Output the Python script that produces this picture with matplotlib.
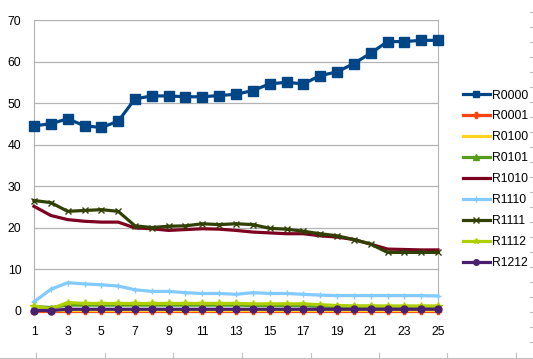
import numpy as np
import matplotlib
matplotlib.use("Agg")
import matplotlib.pyplot as plt
from matplotlib.lines import Line2D

plt.rcParams["font.family"] = ["Liberation Sans", "DejaVu Sans"]

# --- data ---
steps = list(range(1, 26))

r0000 = [44.5, 45.0, 46.2, 44.5, 44.1, 45.6, 51.0, 51.7, 51.7, 51.5, 51.5, 51.8, 52.1,
         53.0, 54.6, 55.0, 54.6, 56.6, 57.5, 59.5, 62.0, 64.8, 64.8, 65.1, 65.1]
r0001 = [0.0] * 25
r0100 = [0.1] * 25
r0101 = [1.0, 0.7, 1.3, 1.3, 1.3, 1.3, 1.3, 1.3, 1.3, 1.3, 1.3, 1.3, 1.3,
         1.2, 1.2, 1.2, 1.2, 1.0, 1.0, 1.0, 1.0, 0.9, 0.9, 0.9, 0.9]
r1010 = [25.1, 22.9, 21.9, 21.5, 21.3, 21.3, 19.9, 19.7, 19.3, 19.5, 19.7, 19.6, 19.3,
         18.9, 18.7, 18.5, 18.5, 18.0, 17.7, 17.1, 16.0, 14.8, 14.7, 14.6, 14.6]
r1110 = [2.1, 5.1, 6.7, 6.4, 6.2, 5.9, 5.0, 4.6, 4.6, 4.3, 4.1, 4.1, 3.9,
         4.3, 4.1, 4.1, 3.9, 3.7, 3.6, 3.6, 3.6, 3.6, 3.6, 3.6, 3.5]
r1111 = [26.5, 26.0, 23.9, 24.1, 24.3, 23.9, 20.4, 20.0, 20.3, 20.4, 20.9, 20.7, 20.9,
         20.7, 19.8, 19.6, 19.1, 18.5, 18.0, 17.1, 16.0, 14.0, 14.0, 14.0, 14.0]
r1112 = [1.0, 0.4, 1.9, 1.7, 1.7, 1.7, 1.7, 1.7, 1.7, 1.7, 1.7, 1.7, 1.7,
         1.6, 1.6, 1.6, 1.6, 1.4, 1.2, 1.1, 1.1, 1.1, 1.1, 1.1, 1.1]
r1212 = [0.0, 0.0, 0.3, 0.3, 0.3, 0.3, 0.3, 0.3, 0.3, 0.3, 0.3, 0.3, 0.3,
         0.3, 0.3, 0.3, 0.3, 0.3, 0.3, 0.3, 0.3, 0.3, 0.3, 0.3, 0.3]

names = ["R0000", "R0001", "R0100", "R0101", "R1010", "R1110", "R1111", "R1112", "R1212"]
series = [r0000, r0001, r0100, r0101, r1010, r1110, r1111, r1112, r1212]

# LibreOffice default chart palette
colors = ["#004586", "#ff420e", "#ffd320", "#579d1c", "#7e0021",
          "#83caff", "#314004", "#aecf00", "#4b1f6f"]
markers = ["s", "P", "None", "^", "None", "+", "x", "*", "o"]
msizes = [6.5, 5, 0, 5, 0, 5, 4, 6, 5]

W, H = 533, 359
fig = plt.figure(figsize=(W / 100, H / 100), dpi=100)
ax = fig.add_axes([34 / W, 1 - 310.5 / H, (438 - 34) / W, (310.5 - 20) / H])

for name, vals, c, m, ms in zip(names, series, colors, markers, msizes):
    ax.plot(steps, vals, color=c, lw=2.3, marker=m, markersize=ms,
            markeredgewidth=1.0, label=name, clip_on=False, zorder=3)

ax.set_xlim(1, 25)
ax.set_ylim(0, 70)
ax.set_yticks(range(0, 71, 10))
ax.set_xticks(range(1, 26, 2))
ax.yaxis.grid(True, color="#b3b3b3", lw=0.9)
ax.set_axisbelow(True)
for side in ["top", "right", "left", "bottom"]:
    ax.spines[side].set_color("#b3b3b3")
ax.tick_params(axis="both", length=0, labelsize=8.7, colors="#000000")
ax.tick_params(axis="x", pad=11)
ax.tick_params(axis="y", pad=9)

leg = fig.legend(loc="center left", bbox_to_anchor=(463 / W, 1 - 179.3 / H),
                 frameon=False, fontsize=8.7, handlelength=2.2,
                 handletextpad=0.2, labelspacing=0.74, borderpad=0,
                 borderaxespad=0)
for h in leg.legend_handles:
    h.set_markersize(4)

# spreadsheet cell borders peeking in at the edges
for y in np.arange(12, 355, 15):
    fig.add_artist(Line2D([530 / W, 1.0], [1 - y / H, 1 - y / H], color="#c0c0c0", lw=0.8))
fig.add_artist(Line2D([0, 1], [1 - 357.5 / H, 1 - 357.5 / H], color="#c0c0c0", lw=0.8))
for x in [36, 105, 173, 242, 311, 379, 447, 516]:
    fig.add_artist(Line2D([x / W, x / W], [1 - 357.5 / H, 1 - 353 / H], color="#c0c0c0", lw=0.8))

fig.savefig("out.png", dpi=100)
